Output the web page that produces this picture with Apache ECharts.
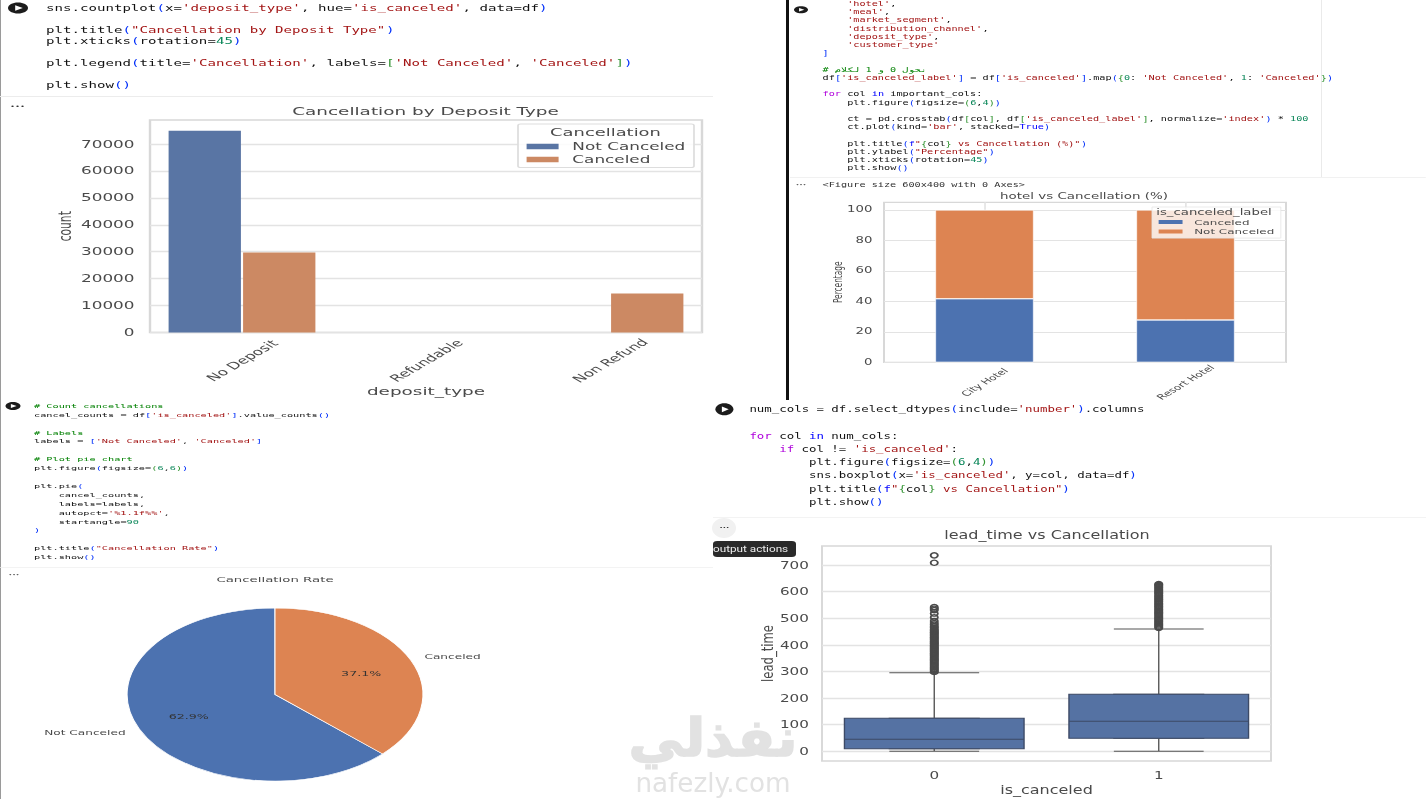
<!DOCTYPE html>
<html>
<head>
<meta charset="utf-8">
<script src="https://cdn.jsdelivr.net/npm/echarts@6/dist/echarts.min.js"></script>
<style>
html,body{margin:0;padding:0;background:#fff;width:1426px;height:799px;overflow:hidden}
.p{position:absolute;transform-origin:0 0;filter:blur(0.4px)}
</style>
</head>
<body>
<script>
// ---- Chart data ----
const depositTypes = ['No Deposit', 'Refundable', 'Non Refund'];
const depositNotCanceled = [74947, 0, 0];
const depositCanceled = [29694, 0, 14494];
const depositTicks = [0, 10000, 20000, 30000, 40000, 50000, 60000, 70000];

const hotels = ['City Hotel', 'Resort Hotel'];
const hotelCanceled = [41.7, 27.8];
const hotelNotCanceled = [58.3, 72.2];
const hotelTicks = [0, 20, 40, 60, 80, 100];

const pieLabels = ['Not Canceled', 'Canceled'];
const pieValues = [75166, 44224];
const piePercents = ['62.9%', '37.1%'];

const boxCategories = ['0', '1'];
const boxStats = [[0, 9, 45, 124, 295], [0, 49, 113, 214, 460]];
const outliers0 = [737, 709, 542, 536, 531, 518, 504, 490, 482, 476, 470, 465, 460, 456, 452, 448, 445, 441, 437, 433, 429, 426, 422, 418, 414, 410, 406, 403, 399, 395, 391, 387, 384, 380, 376, 372, 368, 365, 361, 357, 353, 349, 345, 342, 338, 334, 330, 326, 322, 318, 314, 310, 306, 302, 298];
const outliers1 = [629, 626, 622, 618, 614, 609, 605, 600, 596, 592, 587, 583, 578, 574, 570, 565, 561, 556, 552, 547, 543, 539, 534, 530, 525, 521, 517, 512, 508, 503, 499, 495, 490, 486, 481, 477, 473, 468, 464];
const leadTicks = [0, 100, 200, 300, 400, 500, 600, 700];

// ---- Notebook code text ----
const code1 = [
 "sns.countplot(x='deposit_type', hue='is_canceled', data=df)", "",
 "plt.title(\"Cancellation by Deposit Type\")",
 "plt.xticks(rotation=45)", "",
 "plt.legend(title='Cancellation', labels=['Not Canceled', 'Canceled'])", "",
 "plt.show()"];
const code2 = [
 "    'hotel',", "    'meal',", "    'market_segment',", "    'distribution_channel',",
 "    'deposit_type',", "    'customer_type'", "]", "",
 "# نحول 0 و 1 لكلام",
 "df['is_canceled_label'] = df['is_canceled'].map({0: 'Not Canceled', 1: 'Canceled'})", "",
 "for col in important_cols:",
 "    plt.figure(figsize=(6,4))", "",
 "    ct = pd.crosstab(df[col], df['is_canceled_label'], normalize='index') * 100",
 "    ct.plot(kind='bar', stacked=True)", "",
 "    plt.title(f\"{col} vs Cancellation (%)\")",
 "    plt.ylabel(\"Percentage\")",
 "    plt.xticks(rotation=45)",
 "    plt.show()"];
const code3 = [
 "# Count cancellations",
 "cancel_counts = df['is_canceled'].value_counts()", "",
 "# Labels",
 "labels = ['Not Canceled', 'Canceled']", "",
 "# Plot pie chart",
 "plt.figure(figsize=(6,6))", "",
 "plt.pie(",
 "    cancel_counts,",
 "    labels=labels,",
 "    autopct='%1.1f%%',",
 "    startangle=90",
 ")", "",
 "plt.title(\"Cancellation Rate\")",
 "plt.show()"];
const code4 = [
 "num_cols = df.select_dtypes(include='number').columns", "",
 "for col in num_cols:",
 "    if col != 'is_canceled':",
 "        plt.figure(figsize=(6,4))",
 "        sns.boxplot(x='is_canceled', y=col, data=df)",
 "        plt.title(f\"{col} vs Cancellation\")",
 "        plt.show()"];

// ---- Styles ----
const SANS = "'DejaVu Sans'";
const MONO = "'DejaVu Sans Mono'";
const INK = '#4a4a4a';
const GRID = '#e3e3e3';
const FRAME = '#d8d8d8';
const plain = v => String(v);

function panel(left, top, w, h, sx) {
  const el = document.createElement('div');
  el.className = 'p';
  const lw = w / sx;
  el.style.cssText = `left:${left}px;top:${top}px;width:${lw}px;height:${h}px;transform:scaleX(${sx})`;
  document.body.appendChild(el);
  const chart = echarts.init(el, null, {renderer: 'svg', width: lw, height: h});
  return {chart, X: p => (p - left) / sx, Y: p => p - top, sx};
}
function txt(P, x, y, text, size, fill, extra) {
  return {type: 'text', x: P.X(x), y: P.Y(y), z: 100, silent: true,
    style: Object.assign({text, fontSize: size, fontFamily: SANS, fill, align: 'center', verticalAlign: 'middle'}, extra || {})};
}
function rectEl(P, x0, y0, x1, y1, fill, z, r) {
  return {type: 'rect', z: z === undefined ? 50 : z, silent: true,
    shape: {x: P.X(x0), y: P.Y(y0), width: (x1 - x0) / P.sx, height: y1 - y0, r: r || 0},
    style: {fill}};
}
function play(P, cx, cy, w, h) {
  return [
    {type: 'ellipse', z: 60, silent: true, shape: {cx: P.X(cx), cy: P.Y(cy), rx: w / 2 / P.sx, ry: h / 2}, style: {fill: '#1c1c1c'}},
    {type: 'polygon', z: 61, silent: true, shape: {points: [
      [P.X(cx - w * 0.14), P.Y(cy - h * 0.24)], [P.X(cx + w * 0.24), P.Y(cy)], [P.X(cx - w * 0.14), P.Y(cy + h * 0.24)]]},
      style: {fill: '#fff'}}
  ];
}
const KW = {'for': '#af00db', 'if': '#af00db', 'in': '#0000ff', 'True': '#0000ff', 'f': '#0000ff'};
const BR = ['#0431fa', '#319331', '#7b3814'];
function tokenize(line) {
  const out = [];
  let i = 0, depth = 0;
  while (i < line.length) {
    const c = line[i];
    if (c === ' ') { i++; continue; }
    if (c === '#') { out.push([i, line.slice(i), '#008000']); break; }
    if (c === "'" || c === '"') {
      let j = line.indexOf(c, i + 1);
      if (j < 0) j = line.length - 1;
      const s = line.slice(i, j + 1);
      if (c === '"' && s.includes('{col}')) {
        const k = s.indexOf('{col}');
        out.push([i, s.slice(0, k), '#a31515']);
        out.push([i + k, '{', '#319331']);
        out.push([i + k + 1, 'col', '#111']);
        out.push([i + k + 4, '}', '#319331']);
        out.push([i + k + 5, s.slice(k + 5), '#a31515']);
      } else out.push([i, s, '#a31515']);
      i = j + 1; continue;
    }
    if ('([{'.includes(c)) { out.push([i, c, BR[depth % 3]]); depth++; i++; continue; }
    if (')]}'.includes(c)) { depth = Math.max(0, depth - 1); out.push([i, c, BR[depth % 3]]); i++; continue; }
    if (/[0-9]/.test(c)) {
      let j = i; while (j < line.length && /[0-9]/.test(line[j])) j++;
      out.push([i, line.slice(i, j), '#098658']); i = j; continue;
    }
    if (/[A-Za-z_]/.test(c)) {
      let j = i; while (j < line.length && /[A-Za-z_0-9]/.test(line[j])) j++;
      const w = line.slice(i, j);
      out.push([i, w, KW[w] || '#111']); i = j; continue;
    }
    out.push([i, c, '#111']); i++;
  }
  return out;
}
function codeEls(P, lines, x0, y0, dy, cw, size) {
  const els = [];
  lines.forEach((line, r) => {
    tokenize(line).forEach(t => {
      els.push(txt(P, x0 + t[0] * cw, y0 + r * dy, t[1], size, t[2], {fontFamily: MONO, align: 'left'}));
    });
  });
  return els;
}
function dots(P, x, y, size) {
  return txt(P, x, y, '•••', size, '#333');
}
function titleOf(P, text, x, y, fs) {
  return {text, left: P.X(x), top: P.Y(y) - fs / 2, padding: 0, textAlign: 'center',
    textStyle: {fontFamily: SANS, fontSize: fs, fontWeight: 'normal', color: INK}};
}

// ---------- Panel 1: countplot ----------
(function () {
  const P = panel(0, 0, 713, 399, 1.72);
  P.chart.setOption({
    animation: false,
    title: titleOf(P, 'Cancellation by Deposit Type', 425.5, 111, 10.7),
    grid: {left: P.X(150), top: 120, width: 552 / P.sx, height: 212.5, show: true, borderColor: FRAME, borderWidth: 1.4, outerBoundsMode: 'none'},
    legend: {left: P.X(518), top: 124, orient: 'vertical', icon: 'rect', itemWidth: 18.6, itemHeight: 5.5, itemGap: 3,
      padding: [17.5, 5, 3, 5], selectedMode: false, backgroundColor: 'rgba(255,255,255,0.85)', borderColor: '#dddddd', borderWidth: 1, borderRadius: 1.5,
      itemStyle: {borderWidth: 0}, data: ['Not Canceled', 'Canceled'], textStyle: {fontFamily: SANS, fontSize: 9.8, color: INK, padding: [0, 0, 0, 3]}},
    xAxis: {type: 'category', data: depositTypes, axisLine: {show: false, onZero: false}, axisTick: {show: false}, splitLine: {show: false},
      axisLabel: {rotate: 45, align: 'center', verticalAlign: 'middle', margin: 28, interval: 0, fontFamily: SANS, fontSize: 9.8, color: INK},
      name: 'deposit_type', nameLocation: 'middle', nameGap: 53, nameMoveOverlap: false, nameTextStyle: {fontFamily: SANS, fontSize: 10.7, color: INK}},
    yAxis: {type: 'value', min: 0, max: 78900, axisLine: {show: false},
      axisTick: {show: false, customValues: depositTicks},
      axisLabel: {customValues: depositTicks, formatter: plain, margin: 9, fontFamily: SANS, fontSize: 9.8, color: INK},
      splitLine: {show: true, lineStyle: {color: GRID, width: 1.3}},
      name: 'count', nameLocation: 'middle', nameGap: 44, nameMoveOverlap: false, nameTextStyle: {fontFamily: SANS, fontSize: 10.7, color: INK}},
    series: [
      {name: 'Not Canceled', type: 'bar', data: depositNotCanceled, barWidth: '39.3%', barGap: '3%', itemStyle: {color: '#5975a4'}},
      {name: 'Canceled', type: 'bar', data: depositCanceled, barWidth: '39.3%', barGap: '3%', itemStyle: {color: '#cc8963'}}
    ],
    graphic: [
      rectEl(P, 0, 0, 1, 399, '#9a9a9a'),
      rectEl(P, 0, 96, 713, 97, '#ececec'),
      ...play(P, 18, 8, 20, 11),
      dots(P, 17.5, 106, 5),
      txt(P, 605.5, 132, 'Cancellation', 10.4, INK),
      ...codeEls(P, code1, 46, 8, 11.05, 8.5, 8.2)
    ]
  });
})();

// ---------- Panel 2: stacked bars ----------
(function () {
  const P = panel(785, 0, 641, 406, 1.66);
  P.chart.setOption({
    animation: false,
    title: titleOf(P, 'hotel vs Cancellation (%)', 1084, 196, 8.1),
    grid: {left: P.X(884), top: 202.3, width: 402 / P.sx, height: 160, show: true, borderColor: FRAME, borderWidth: 1.2, outerBoundsMode: 'none'},
    legend: {left: P.X(1152), top: 207, orient: 'vertical', icon: 'rect', itemWidth: 14.4, itemHeight: 4, itemGap: 2.6,
      padding: [11.5, 4, 3, 4], selectedMode: false, backgroundColor: 'rgba(255,255,255,0.8)', borderColor: '#e6e6e6', borderWidth: 0.6,
      itemStyle: {borderWidth: 0}, data: ['Canceled', 'Not Canceled'], textStyle: {fontFamily: SANS, fontSize: 7.2, color: INK, padding: [0, 0, 0, 2]}},
    xAxis: {type: 'category', data: hotels, axisLine: {show: false, onZero: false}, axisTick: {show: false},
      splitLine: {show: true, alignWithLabel: true, lineStyle: {color: GRID, width: 1}},
      axisLabel: {rotate: 45, align: 'center', verticalAlign: 'middle', margin: 20, interval: 0, fontFamily: SANS, fontSize: 7.4, color: INK}},
    yAxis: {type: 'value', min: 0, max: 105, axisLine: {show: false},
      axisTick: {show: false, customValues: hotelTicks},
      axisLabel: {customValues: hotelTicks, formatter: plain, margin: 7, fontFamily: SANS, fontSize: 8, color: INK},
      splitLine: {show: true, lineStyle: {color: GRID, width: 1.1}},
      name: 'Percentage', nameLocation: 'middle', nameGap: 24.5, nameMoveOverlap: false, nameTextStyle: {fontFamily: SANS, fontSize: 7.4, color: INK}},
    series: [
      {name: 'Canceled', type: 'bar', stack: 'h', data: hotelCanceled, barWidth: '49%', itemStyle: {color: '#4c72b0', borderColor: '#fff', borderWidth: 0.5}},
      {name: 'Not Canceled', type: 'bar', stack: 'h', data: hotelNotCanceled, barWidth: '49%', itemStyle: {color: '#dd8452', borderColor: '#fff', borderWidth: 0.5}}
    ],
    graphic: [
      rectEl(P, 786, 0, 789, 400, '#111'),
      rectEl(P, 790, 177, 1426, 177.8, '#ececec'),
      rectEl(P, 1321, 0, 1321.6, 177, '#dcdcdc'),
      ...play(P, 801, 9.7, 14, 7),
      dots(P, 801, 185, 3.6),
      txt(P, 1214, 212, 'is_canceled_label', 8, INK),
      txt(P, 822.6, 184.7, '<Figure size 600x400 with 0 Axes>', 6.15, '#333', {fontFamily: MONO, align: 'left'}),
      ...codeEls(P, code2, 822.6, 3.7, 8.22, 6.15, 6.15)
    ]
  });
})();

// ---------- Panel 3: pie ----------
(function () {
  const P = panel(0, 399, 713, 400, 1.71);
  const cx = P.X(275), cy = P.Y(694.5), r = 86.5;
  P.chart.setOption({
    animation: false,
    title: titleOf(P, 'Cancellation Rate', 275, 579, 7.8),
    series: [
      {type: 'pie', center: [cx, cy], radius: [0, r], startAngle: 90, clockwise: false, avoidLabelOverlap: false, silent: true,
       data: pieLabels.map((n, i) => ({name: n, value: pieValues[i]})),
       color: ['#4c72b0', '#dd8452'],
       itemStyle: {borderColor: '#fff', borderWidth: 0.6},
       label: {show: true, position: 'outside', formatter: '{b}', fontFamily: SANS, fontSize: 7.1, color: INK, distanceToLabelLine: 0},
       labelLine: {show: false, length: 8.65, length2: 0}},
      {type: 'pie', center: [cx, cy], radius: [r * 0.2, r], startAngle: 90, clockwise: false, avoidLabelOverlap: false, silent: true,
       data: pieLabels.map((n, i) => ({name: n, value: pieValues[i]})),
       itemStyle: {color: 'transparent', borderWidth: 0},
       label: {show: true, position: 'inner', formatter: p => piePercents[p.dataIndex], fontFamily: SANS, fontSize: 7.4, color: '#333'},
       labelLine: {show: false}}
    ],
    graphic: [
      rectEl(P, 0, 399, 1, 799, '#9a9a9a'),
      rectEl(P, 0, 567, 713, 567.8, '#efefef'),
      ...play(P, 13, 406, 15, 8),
      dots(P, 14, 575, 3.6),
      ...codeEls(P, code3, 34, 405.7, 8.9, 6.17, 6)
    ]
  });
})();

// ---------- Panel 4: boxplot ----------
(function () {
  const P = panel(600, 399, 826, 400, 1.38);
  P.chart.setOption({
    animation: false,
    title: titleOf(P, 'lead_time vs Cancellation', 1047, 535, 11.6),
    grid: {left: P.X(822), top: P.Y(546), width: 449 / P.sx, height: 215, show: true, borderColor: FRAME, borderWidth: 1.4, outerBoundsMode: 'none'},
    xAxis: [
      {type: 'category', data: boxCategories, axisLine: {show: false, onZero: false}, axisTick: {show: false}, splitLine: {show: false},
       axisLabel: {margin: 8.5, fontFamily: SANS, fontSize: 11, color: INK},
       name: 'is_canceled', nameLocation: 'middle', nameGap: 23, nameMoveOverlap: false, nameTextStyle: {fontFamily: SANS, fontSize: 11.6, color: INK}},
      {type: 'category', data: boxCategories, show: false, axisLine: {onZero: false}}
    ],
    yAxis: {type: 'value', min: -36.8, max: 772, axisLine: {show: false},
      axisTick: {show: false, customValues: leadTicks},
      axisLabel: {customValues: leadTicks, formatter: plain, margin: 9.5, fontFamily: SANS, fontSize: 11, color: INK},
      splitLine: {show: true, lineStyle: {color: GRID, width: 1.3}},
      name: 'lead_time', nameLocation: 'middle', nameGap: 33.7, nameMoveOverlap: false, nameTextStyle: {fontFamily: SANS, fontSize: 11.6, color: INK}},
    series: [
      {type: 'boxplot', xAxisIndex: 1, boxWidth: ['40%', '40%'], data: boxStats, silent: true,
       itemStyle: {color: '#5572a3', borderColor: '#555555', borderWidth: 1}},
      {type: 'boxplot', xAxisIndex: 0, boxWidth: ['80%', '80%'], silent: true,
       data: boxStats.map(s => [s[1], s[1], s[2], s[3], s[3]]),
       itemStyle: {color: '#5572a3', borderColor: '#3d4a66', borderWidth: 1}},
      {type: 'scatter', xAxisIndex: 0, symbol: 'circle', symbolSize: 5.2, silent: true,
       data: outliers0.map(v => [0, v]).concat(outliers1.map(v => [1, v])),
       itemStyle: {color: 'rgba(255,255,255,0)', borderColor: '#4a4a4a', borderWidth: 1.4, opacity: 1}}
    ],
    graphic: [
      Object.assign(txt(P, 713, 738, 'نفذلي', 40, '#e2e2e2', {fontWeight: 'bold', stroke: '#e2e2e2', lineWidth: 1.2}), {scaleY: 1.3, originX: 0, originY: 0}),
      Object.assign(txt(P, 713, 782, 'nafezly.com', 19, '#e2e2e2'), {scaleY: 1.43, originX: 0, originY: 0}),
      rectEl(P, 713, 517, 1426, 517.8, '#efefef'),
      ...play(P, 724.4, 409.3, 18, 12),
      {type: 'ellipse', z: 40, silent: true, shape: {cx: P.X(724), cy: P.Y(528), rx: 12 / P.sx, ry: 10}, style: {fill: '#f1f1f1'}},
      dots(P, 724.5, 528, 4),
      rectEl(P, 713, 541, 796, 557, '#2a2a2a', 50, 3),
      txt(P, 713, 549, 'output actions', 8.5, '#eeeeee', {fontFamily: "'Roboto'", align: 'left'}),
      ...codeEls(P, code4, 749.4, 409, 13.3, 7.45, 9)
    ]
  });
})();
</script>
</body>
</html>
